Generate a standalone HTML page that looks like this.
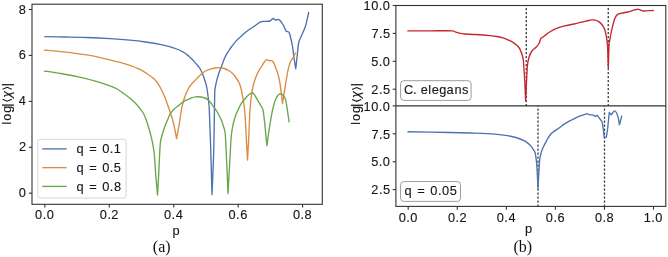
<!DOCTYPE html>
<html><head><meta charset="utf-8"><style>
html,body{margin:0;padding:0;background:#fff;}
svg{display:block;}
#w{will-change:transform;width:668px;height:257px;}
.t,.t text{font-family:"Liberation Sans",sans-serif;fill:#161616;stroke:#161616;stroke-width:0.12px;}
.s{font-family:"Liberation Serif",serif;fill:#111;}
</style></head><body>
<div id="w"><svg width="668" height="257" viewBox="0 0 668 257">
<rect width="668" height="257" fill="#fff"/>
<path d="M44.25,36.60 C47.71,36.67 57.92,36.85 65.00,37.00 C72.08,37.15 79.20,37.23 86.70,37.50 C94.20,37.77 102.78,38.17 110.00,38.60 C117.22,39.03 124.07,39.53 130.00,40.10 C135.93,40.67 140.42,41.23 145.60,42.00 C150.78,42.77 156.45,43.72 161.10,44.70 C165.75,45.68 169.87,46.72 173.50,47.90 C177.13,49.08 180.30,50.38 182.90,51.80 C185.50,53.22 187.28,54.85 189.10,56.40 C190.92,57.95 192.25,59.42 193.80,61.10 C195.35,62.78 197.23,65.02 198.40,66.50 C199.57,67.98 200.00,68.50 200.80,70.00 C201.60,71.50 202.47,73.58 203.20,75.50 C203.93,77.42 204.60,79.50 205.20,81.50 C205.80,83.50 206.28,84.68 206.80,87.50 C207.32,90.32 207.88,94.65 208.30,98.40 C208.72,102.15 208.89,101.40 209.30,110.00 C209.71,118.60 210.30,135.92 210.75,150.00 C211.20,164.08 211.79,187.08 212.00,194.50 C212.29,187.08 213.32,165.75 213.75,150.00 C214.18,134.25 214.41,110.00 214.60,100.00 C214.79,90.00 214.60,93.02 214.90,90.00 C215.20,86.98 215.77,84.62 216.40,81.90 C217.03,79.18 217.92,76.08 218.70,73.70 C219.48,71.32 220.32,69.72 221.10,67.60 C221.88,65.48 222.62,63.00 223.40,61.00 C224.18,59.00 224.98,57.18 225.80,55.60 C226.62,54.02 227.25,53.10 228.30,51.50 C229.35,49.90 230.75,47.82 232.10,46.00 C233.45,44.18 234.80,42.32 236.40,40.60 C238.00,38.88 239.92,37.30 241.70,35.70 C243.48,34.10 245.13,32.48 247.10,31.00 C249.07,29.52 251.35,28.27 253.50,26.80 C255.65,25.33 258.50,23.08 260.00,22.20 C261.50,21.32 261.04,21.66 262.50,21.50 C263.96,21.34 267.29,21.50 268.75,21.25 C270.21,21.00 270.50,20.50 271.25,20.00 C272.00,19.50 272.92,18.54 273.25,18.25 C273.62,18.54 274.79,19.79 275.50,20.00 C276.21,20.21 276.83,19.50 277.50,19.50 C278.17,19.50 278.67,19.29 279.50,20.00 C280.33,20.71 281.58,22.29 282.50,23.75 C283.42,25.21 284.38,27.50 285.00,28.75 C285.62,30.00 285.62,30.71 286.25,31.25 C286.88,31.79 288.12,31.38 288.75,32.00 C289.38,32.62 289.38,32.62 290.00,35.00 C290.62,37.38 291.88,42.71 292.50,46.25 C293.12,49.79 293.21,52.50 293.75,56.25 C294.29,60.00 295.42,66.67 295.75,68.75 C295.96,66.88 296.50,61.88 297.00,57.50 C297.50,53.12 298.04,46.04 298.75,42.50 C299.46,38.96 300.21,38.75 301.25,36.25 C302.29,33.75 304.08,30.00 305.00,27.50 C305.92,25.00 306.12,23.83 306.75,21.25 C307.38,18.67 308.42,13.54 308.75,12.00" fill="none" stroke="#4c72b0" stroke-width="1.35" stroke-linejoin="round"/>
<path d="M44.25,50.00 C47.44,50.30 56.32,50.98 63.40,51.80 C70.47,52.62 79.70,53.73 86.70,54.90 C93.70,56.07 99.68,57.50 105.40,58.80 C111.12,60.10 116.90,61.60 121.00,62.70 C125.10,63.80 126.55,64.13 130.00,65.40 C133.45,66.67 138.37,68.57 141.70,70.30 C145.03,72.03 147.97,74.38 150.00,75.80 C152.03,77.22 152.60,77.53 153.90,78.80 C155.20,80.07 156.50,81.50 157.80,83.40 C159.10,85.30 160.53,87.93 161.70,90.20 C162.87,92.47 163.83,94.62 164.80,97.00 C165.77,99.38 166.70,102.25 167.50,104.50 C168.30,106.75 168.95,108.58 169.60,110.50 C170.25,112.42 170.72,113.75 171.40,116.00 C172.08,118.25 172.83,120.22 173.70,124.00 C174.57,127.78 176.12,136.25 176.60,138.70 C177.10,135.92 178.80,126.78 179.60,122.00 C180.40,117.22 180.75,113.50 181.40,110.00 C182.05,106.50 182.82,103.50 183.50,101.00 C184.18,98.50 184.83,96.75 185.50,95.00 C186.17,93.25 186.75,92.00 187.50,90.50 C188.25,89.00 188.95,87.47 190.00,86.00 C191.05,84.53 192.52,83.07 193.80,81.70 C195.08,80.33 195.83,79.54 197.70,77.80 C199.57,76.06 202.12,72.88 205.00,71.25 C207.88,69.62 212.08,68.54 215.00,68.00 C217.92,67.46 220.00,67.46 222.50,68.00 C225.00,68.54 227.92,69.88 230.00,71.25 C232.08,72.62 233.33,73.96 235.00,76.25 C236.67,78.54 238.62,81.04 240.00,85.00 C241.38,88.96 242.42,95.17 243.25,100.00 C244.08,104.83 244.50,107.75 245.00,114.00 C245.50,120.25 245.83,129.83 246.25,137.50 C246.67,145.17 247.29,156.25 247.50,160.00 C247.71,156.25 248.33,145.83 248.75,137.50 C249.17,129.17 249.56,116.98 250.00,110.00 C250.44,103.02 250.75,100.10 251.40,95.60 C252.05,91.10 252.85,86.80 253.90,83.00 C254.95,79.20 256.43,75.55 257.70,72.80 C258.97,70.05 260.45,68.22 261.50,66.50 C262.55,64.78 263.15,63.63 264.00,62.50 C264.85,61.37 265.75,60.00 266.60,59.70 C267.45,59.40 268.05,60.40 269.10,60.70 C270.15,61.00 271.63,59.90 272.90,61.50 C274.17,63.10 275.65,67.35 276.70,70.30 C277.75,73.25 278.48,75.82 279.20,79.20 C279.92,82.58 280.45,86.55 281.00,90.60 C281.55,94.65 282.25,101.35 282.50,103.50 C282.95,100.67 284.33,91.83 285.20,86.50 C286.07,81.17 287.28,74.00 287.70,71.50 C288.12,70.00 289.28,64.87 290.20,62.50 C291.12,60.13 292.28,58.95 293.20,57.30 C294.12,55.65 295.28,53.38 295.70,52.60" fill="none" stroke="#dc8b40" stroke-width="1.35" stroke-linejoin="round"/>
<path d="M44.25,71.00 C46.66,71.37 53.18,72.27 58.70,73.20 C64.23,74.13 71.17,75.25 77.40,76.60 C83.63,77.95 89.87,79.43 96.10,81.30 C102.33,83.17 110.13,85.72 114.80,87.80 C119.47,89.88 120.98,91.55 124.10,93.80 C127.22,96.05 130.85,98.83 133.50,101.30 C136.15,103.77 138.29,106.48 140.00,108.60 C141.71,110.72 142.71,112.10 143.75,114.00 C144.79,115.90 145.06,116.40 146.25,120.00 C147.44,123.60 149.61,130.39 150.90,135.60 C152.19,140.81 153.22,145.02 154.00,151.25 C154.78,157.48 155.02,165.71 155.60,173.00 C156.18,180.29 157.18,191.33 157.50,195.00 C157.71,191.33 158.28,181.60 158.75,173.00 C159.22,164.40 159.68,149.90 160.30,143.40 C160.93,136.90 161.78,136.73 162.50,134.00 C163.22,131.27 163.87,129.08 164.60,127.00 C165.33,124.92 165.93,123.73 166.90,121.50 C167.87,119.27 169.15,115.72 170.40,113.60 C171.65,111.48 173.05,110.13 174.40,108.80 C175.75,107.47 176.93,106.82 178.50,105.60 C180.07,104.38 181.97,102.62 183.80,101.50 C185.63,100.38 187.55,99.68 189.50,98.90 C191.45,98.12 192.92,96.95 195.50,96.80 C198.08,96.65 202.67,97.25 205.00,98.00 C207.33,98.75 208.17,100.00 209.50,101.30 C210.83,102.60 211.70,104.02 213.00,105.80 C214.30,107.58 215.95,109.70 217.30,112.00 C218.65,114.30 220.07,117.18 221.10,119.60 C222.13,122.02 222.82,124.15 223.50,126.50 C224.18,128.85 224.72,128.78 225.20,133.70 C225.68,138.62 225.93,146.03 226.40,156.00 C226.87,165.97 227.73,187.25 228.00,193.50 C228.22,189.58 228.95,176.25 229.30,170.00 C229.65,163.75 229.77,161.72 230.10,156.00 C230.43,150.28 230.77,141.12 231.30,135.70 C231.83,130.28 232.63,126.70 233.30,123.50 C233.97,120.30 234.62,118.53 235.30,116.50 C235.98,114.47 236.37,113.53 237.40,111.30 C238.43,109.07 240.15,105.27 241.50,103.10 C242.85,100.93 244.33,99.65 245.50,98.30 C246.67,96.95 247.42,95.92 248.50,95.00 C249.58,94.08 251.02,92.85 252.00,92.80 C252.98,92.75 253.47,93.47 254.40,94.70 C255.33,95.93 256.43,98.23 257.60,100.20 C258.77,102.17 260.48,104.78 261.40,106.50 C262.32,108.22 262.55,107.77 263.10,110.50 C263.65,113.23 264.23,118.72 264.70,122.90 C265.17,127.08 265.53,131.80 265.90,135.60 C266.27,139.40 266.73,144.02 266.90,145.70 C267.25,143.17 268.23,135.57 269.00,130.50 C269.77,125.43 270.67,119.72 271.50,115.30 C272.33,110.88 273.17,106.95 274.00,104.00 C274.83,101.05 275.53,99.30 276.50,97.60 C277.47,95.90 278.73,94.22 279.80,93.80 C280.87,93.38 281.97,94.25 282.90,95.10 C283.83,95.95 284.65,96.37 285.40,98.90 C286.15,101.43 286.77,106.38 287.40,110.30 C288.03,114.22 288.90,120.38 289.20,122.40" fill="none" stroke="#66a84a" stroke-width="1.35" stroke-linejoin="round"/>
<rect x="32.0" y="4.2" width="290.3" height="200.10000000000002" fill="none" stroke="#333" stroke-width="1.1"/>
<line x1="28.8" y1="193.2" x2="32.0" y2="193.2" stroke="#333" stroke-width="1.1"/>
<line x1="28.8" y1="147.3" x2="32.0" y2="147.3" stroke="#333" stroke-width="1.1"/>
<line x1="28.8" y1="101.4" x2="32.0" y2="101.4" stroke="#333" stroke-width="1.1"/>
<line x1="28.8" y1="55.4" x2="32.0" y2="55.4" stroke="#333" stroke-width="1.1"/>
<line x1="28.8" y1="9.5" x2="32.0" y2="9.5" stroke="#333" stroke-width="1.1"/>
<line x1="44.8" y1="204.3" x2="44.8" y2="207.60000000000002" stroke="#333" stroke-width="1.1"/>
<line x1="109.3" y1="204.3" x2="109.3" y2="207.60000000000002" stroke="#333" stroke-width="1.1"/>
<line x1="173.75" y1="204.3" x2="173.75" y2="207.60000000000002" stroke="#333" stroke-width="1.1"/>
<line x1="238.2" y1="204.3" x2="238.2" y2="207.60000000000002" stroke="#333" stroke-width="1.1"/>
<line x1="302.6" y1="204.3" x2="302.6" y2="207.60000000000002" stroke="#333" stroke-width="1.1"/>
<g class="t">
<text class="t" x="18.77" y="197.20" font-size="12.8">0</text>
<text class="t" x="19.02" y="151.30" font-size="12.8">2</text>
<text class="t" x="18.64" y="105.40" font-size="12.8">4</text>
<text class="t" x="18.73" y="59.40" font-size="12.8">6</text>
<text class="t" x="18.79" y="13.50" font-size="12.8">8</text>
<text class="t" x="35.12 42.72 46.76" y="219.10" font-size="12.8">0.0</text>
<text class="t" x="99.83 107.42 111.31" y="219.10" font-size="12.8">0.2</text>
<text class="t" x="164.01 171.61 175.65" y="219.10" font-size="12.8">0.4</text>
<text class="t" x="228.50 236.10 240.14" y="219.10" font-size="12.8">0.6</text>
<text class="t" x="292.93 300.53 304.57" y="219.10" font-size="12.8">0.8</text>
</g>
<rect x="37.8" y="139.3" width="88.3" height="58.7" rx="2" fill="#fff" fill-opacity="0.8" stroke="#d6d6d6" stroke-width="1"/>
<line x1="42.3" y1="148.9" x2="66.7" y2="148.9" stroke="#4c72b0" stroke-width="1.35"/>
<text class="t" x="76.46 83.97 89.23 98.07 102.27 109.87 113.84" y="153.30" font-size="12.8">q = 0.1</text>
<line x1="42.3" y1="167.65" x2="66.7" y2="167.65" stroke="#dc8b40" stroke-width="1.35"/>
<text class="t" x="76.46 83.97 89.23 98.07 102.27 109.87 113.86" y="172.05" font-size="12.8">q = 0.5</text>
<line x1="42.3" y1="186.4" x2="66.7" y2="186.4" stroke="#66a84a" stroke-width="1.35"/>
<text class="t" x="76.46 83.97 89.23 98.07 102.27 109.87 113.91" y="190.80" font-size="12.8">q = 0.8</text>
<text class="t" x="172.60" y="235.00" font-size="12.8">p</text>
<g transform="translate(10.9,124.0) rotate(-90)">
<text class="t" x="0.80" y="0" font-size="12.5" text-anchor="middle">l</text>
<text class="t" x="6.80" y="0" font-size="12.5" text-anchor="middle">o</text>
<text class="t" x="14.70" y="0" font-size="12.5" text-anchor="middle">g</text>
<text class="t" x="18.90" y="0" font-size="12.5" text-anchor="middle">|</text>
<text class="t" x="39.50" y="0" font-size="12.5" text-anchor="middle">|</text>
<text class="t" x="29.70" y="0" font-size="12.5" text-anchor="middle" font-style="italic">χ</text>
<path d="M24.75,-8.3 L22.85,-3.7 L24.75,0.9" fill="none" stroke="#161616" stroke-width="1.1"/>
<path d="M34.75,-8.3 L36.65,-3.7 L34.75,0.9" fill="none" stroke="#161616" stroke-width="1.1"/>
</g>
<text class="s" x="152.8" y="252.2" font-size="16">(a)</text>
<line x1="526.25" y1="105.9" x2="526.25" y2="5.5" stroke="#3c3c3c" stroke-width="1.3" stroke-dasharray="2.3,1.7" stroke-dashoffset="0.4"/>
<line x1="608.25" y1="105.9" x2="608.25" y2="5.5" stroke="#3c3c3c" stroke-width="1.3" stroke-dasharray="2.3,1.7" stroke-dashoffset="0.4"/>
<line x1="538" y1="206.4" x2="538" y2="105.9" stroke="#3c3c3c" stroke-width="1.3" stroke-dasharray="2.3,1.7" stroke-dashoffset="0.4"/>
<line x1="604.5" y1="206.4" x2="604.5" y2="105.9" stroke="#3c3c3c" stroke-width="1.3" stroke-dasharray="2.3,1.7" stroke-dashoffset="0.4"/>
<path d="M407.30,30.80 C411.08,30.80 422.55,30.80 430.00,30.80 C437.45,30.80 447.72,30.57 452.00,30.80 C456.28,31.03 454.37,31.78 455.70,32.20 C457.03,32.62 458.50,33.00 460.00,33.30 C461.50,33.60 462.13,33.80 464.70,34.00 C467.27,34.20 471.22,34.23 475.40,34.50 C479.58,34.77 486.20,35.27 489.80,35.60 C493.40,35.93 494.80,36.13 497.00,36.50 C499.20,36.87 501.17,37.25 503.00,37.80 C504.83,38.35 506.30,39.02 508.00,39.80 C509.70,40.58 511.43,41.30 513.20,42.50 C514.97,43.70 517.18,45.18 518.60,47.00 C520.02,48.82 520.93,51.37 521.70,53.40 C522.47,55.43 522.83,56.77 523.20,59.20 C523.57,61.63 523.65,64.53 523.90,68.00 C524.15,71.47 524.42,74.53 524.70,80.00 C524.98,85.47 525.45,97.33 525.60,100.80 C525.77,97.33 526.30,85.80 526.60,80.00 C526.90,74.20 527.03,69.67 527.40,66.00 C527.77,62.33 528.05,60.50 528.80,58.00 C529.55,55.50 530.65,52.83 531.90,51.00 C533.15,49.17 535.08,48.30 536.30,47.00 C537.52,45.70 538.47,44.57 539.20,43.20 C539.93,41.83 539.98,39.87 540.70,38.80 C541.42,37.73 542.62,37.50 543.50,36.80 C544.38,36.10 544.97,35.40 546.00,34.60 C547.03,33.80 547.92,33.05 549.70,32.00 C551.48,30.95 554.18,29.32 556.70,28.30 C559.22,27.28 561.88,26.62 564.80,25.90 C567.72,25.18 571.67,24.58 574.20,24.00 C576.73,23.42 578.07,22.88 580.00,22.40 C581.93,21.92 583.85,21.52 585.80,21.10 C587.75,20.68 590.13,20.05 591.70,19.90 C593.27,19.75 594.03,19.92 595.20,20.20 C596.37,20.48 597.53,20.80 598.70,21.60 C599.87,22.40 601.18,23.63 602.20,25.00 C603.22,26.37 604.07,27.63 604.80,29.80 C605.53,31.97 606.13,35.13 606.60,38.00 C607.07,40.87 607.32,42.08 607.60,47.00 C607.88,51.92 608.18,64.08 608.30,67.50 C608.43,63.75 608.85,49.58 609.10,45.00 C609.35,40.42 609.33,42.63 609.80,40.00 C610.27,37.37 611.08,32.75 611.90,29.20 C612.72,25.65 613.75,21.17 614.70,18.70 C615.65,16.23 616.43,15.32 617.60,14.40 C618.77,13.48 620.05,13.60 621.70,13.20 C623.35,12.80 625.95,12.35 627.50,12.00 C629.05,11.65 629.83,11.47 631.00,11.10 C632.17,10.73 633.23,10.10 634.50,9.80 C635.77,9.50 637.53,9.23 638.60,9.30 C639.67,9.37 640.12,9.92 640.90,10.20 C641.68,10.48 642.03,10.92 643.30,11.00 C644.57,11.08 646.75,10.78 648.50,10.70 C650.25,10.62 652.92,10.53 653.80,10.50" fill="none" stroke="#c4262e" stroke-width="1.35" stroke-linejoin="round"/>
<path d="M407.50,131.75 C414.58,131.88 438.75,132.26 450.00,132.50 C461.25,132.74 467.50,132.92 475.00,133.20 C482.50,133.48 489.58,133.78 495.00,134.20 C500.42,134.62 503.75,135.07 507.50,135.70 C511.25,136.33 514.58,137.08 517.50,138.00 C520.42,138.92 522.92,140.03 525.00,141.20 C527.08,142.37 528.67,143.70 530.00,145.00 C531.33,146.30 532.17,147.75 533.00,149.00 C533.83,150.25 534.45,150.67 535.00,152.50 C535.55,154.33 535.95,157.08 536.30,160.00 C536.65,162.92 536.82,165.21 537.10,170.00 C537.38,174.79 537.85,185.62 538.00,188.75 C538.17,185.62 538.67,175.21 539.00,170.00 C539.33,164.79 539.42,161.04 540.00,157.50 C540.58,153.96 541.33,151.67 542.50,148.75 C543.67,145.83 545.73,142.29 547.00,140.00 C548.27,137.71 549.15,136.27 550.10,135.00 C551.05,133.73 551.78,133.17 552.70,132.40 C553.62,131.63 554.35,131.25 555.60,130.40 C556.85,129.55 558.90,128.27 560.20,127.30 C561.50,126.33 562.10,125.52 563.40,124.60 C564.70,123.68 566.45,122.65 568.00,121.80 C569.55,120.95 571.13,120.28 572.70,119.50 C574.27,118.72 575.83,117.80 577.40,117.10 C578.97,116.40 580.55,115.87 582.10,115.30 C583.65,114.73 585.93,113.97 586.70,113.70 C587.22,113.88 588.75,114.57 589.80,114.80 C590.85,115.03 592.08,114.83 593.00,115.10 C593.92,115.37 594.92,116.18 595.30,116.40 C595.63,116.22 596.97,115.48 597.30,115.30 C597.62,115.73 598.42,116.82 599.20,117.90 C599.98,118.98 601.35,120.12 602.00,121.80 C602.65,123.48 602.73,125.40 603.10,128.00 C603.47,130.60 604.02,135.83 604.20,137.40 C604.53,137.40 605.87,137.40 606.20,137.40 C606.38,136.37 606.92,134.07 607.30,131.20 C607.68,128.33 608.17,123.32 608.50,120.20 C608.83,117.08 609.17,113.78 609.30,112.50 C609.63,112.88 610.97,114.42 611.30,114.80 C611.48,114.53 611.87,113.85 612.40,113.20 C612.93,112.55 613.85,111.02 614.50,110.90 C615.15,110.78 615.78,111.72 616.30,112.50 C616.82,113.28 617.20,114.32 617.60,115.60 C618.00,116.88 618.40,118.65 618.70,120.20 C619.00,121.75 619.28,124.12 619.40,124.90 C619.62,124.12 620.30,121.75 620.70,120.20 C621.10,118.65 621.62,116.37 621.80,115.60" fill="none" stroke="#4c72b0" stroke-width="1.35" stroke-linejoin="round"/>
<rect x="395.9" y="5.5" width="269.9" height="200.9" fill="none" stroke="#333" stroke-width="1.1"/>
<line x1="395.9" y1="105.9" x2="665.8" y2="105.9" stroke="#333" stroke-width="1.1"/>
<line x1="392.7" y1="5.50" x2="395.9" y2="5.50" stroke="#333" stroke-width="1.1"/>
<line x1="392.7" y1="33.40" x2="395.9" y2="33.40" stroke="#333" stroke-width="1.1"/>
<line x1="392.7" y1="61.31" x2="395.9" y2="61.31" stroke="#333" stroke-width="1.1"/>
<line x1="392.7" y1="89.21" x2="395.9" y2="89.21" stroke="#333" stroke-width="1.1"/>
<line x1="392.7" y1="105.90" x2="395.9" y2="105.90" stroke="#333" stroke-width="1.1"/>
<line x1="392.7" y1="133.80" x2="395.9" y2="133.80" stroke="#333" stroke-width="1.1"/>
<line x1="392.7" y1="161.71" x2="395.9" y2="161.71" stroke="#333" stroke-width="1.1"/>
<line x1="392.7" y1="189.61" x2="395.9" y2="189.61" stroke="#333" stroke-width="1.1"/>
<line x1="408.2" y1="206.4" x2="408.2" y2="209.70000000000002" stroke="#333" stroke-width="1.1"/>
<line x1="457.3" y1="206.4" x2="457.3" y2="209.70000000000002" stroke="#333" stroke-width="1.1"/>
<line x1="506.35" y1="206.4" x2="506.35" y2="209.70000000000002" stroke="#333" stroke-width="1.1"/>
<line x1="555.4" y1="206.4" x2="555.4" y2="209.70000000000002" stroke="#333" stroke-width="1.1"/>
<line x1="604.45" y1="206.4" x2="604.45" y2="209.70000000000002" stroke="#333" stroke-width="1.1"/>
<line x1="653.5" y1="206.4" x2="653.5" y2="209.70000000000002" stroke="#333" stroke-width="1.1"/>
<g class="t">
<text class="t" x="363.40 371.23 378.83 382.87" y="10.40" font-size="12.8">10.0</text>
<text class="t" x="371.46 379.08 383.08" y="38.30" font-size="12.8">7.5</text>
<text class="t" x="371.18 378.83 382.87" y="66.21" font-size="12.8">5.0</text>
<text class="t" x="371.32 379.08 383.08" y="94.11" font-size="12.8">2.5</text>
<text class="t" x="363.40 371.23 378.83 382.87" y="110.60" font-size="12.8">10.0</text>
<text class="t" x="371.46 379.08 383.08" y="138.50" font-size="12.8">7.5</text>
<text class="t" x="371.18 378.83 382.87" y="166.41" font-size="12.8">5.0</text>
<text class="t" x="371.32 379.08 383.08" y="194.31" font-size="12.8">2.5</text>
<text class="t" x="398.67 406.27 410.31" y="221.60" font-size="12.8">0.0</text>
<text class="t" x="447.98 455.57 459.46" y="221.60" font-size="12.8">0.2</text>
<text class="t" x="496.76 504.36 508.40" y="221.60" font-size="12.8">0.4</text>
<text class="t" x="545.85 553.45 557.49" y="221.60" font-size="12.8">0.6</text>
<text class="t" x="594.93 602.53 606.57" y="221.60" font-size="12.8">0.8</text>
<text class="t" x="643.64 651.30 655.34" y="221.60" font-size="12.8">1.0</text>
</g>
<rect x="400.6" y="80.7" width="70.5" height="19.7" rx="3.2" fill="#fff" stroke="#9c9c9c" stroke-width="1"/>
<text class="t" x="403.88 412.99 416.71 420.81 428.37 431.70 439.23 446.45 454.54 462.01" y="94.00" font-size="12.8">C. elegans</text>
<rect x="400.6" y="181.6" width="59.9" height="19.8" rx="3.2" fill="#fff" stroke="#9c9c9c" stroke-width="1"/>
<text class="t" x="404.56 412.07 417.33 426.17 430.37 437.97 442.01 449.72" y="195.30" font-size="12.8">q = 0.05</text>
<text class="t" x="525.10" y="232.80" font-size="12.8">p</text>
<g transform="translate(360.4,124.2) rotate(-90)">
<text class="t" x="0.80" y="0" font-size="12.5" text-anchor="middle">l</text>
<text class="t" x="6.80" y="0" font-size="12.5" text-anchor="middle">o</text>
<text class="t" x="14.70" y="0" font-size="12.5" text-anchor="middle">g</text>
<text class="t" x="18.90" y="0" font-size="12.5" text-anchor="middle">|</text>
<text class="t" x="39.50" y="0" font-size="12.5" text-anchor="middle">|</text>
<text class="t" x="29.70" y="0" font-size="12.5" text-anchor="middle" font-style="italic">χ</text>
<path d="M24.75,-8.3 L22.85,-3.7 L24.75,0.9" fill="none" stroke="#161616" stroke-width="1.1"/>
<path d="M34.75,-8.3 L36.65,-3.7 L34.75,0.9" fill="none" stroke="#161616" stroke-width="1.1"/>
</g>
<text class="s" x="513.5" y="252.2" font-size="16">(b)</text>
</svg></div>
</body></html>
